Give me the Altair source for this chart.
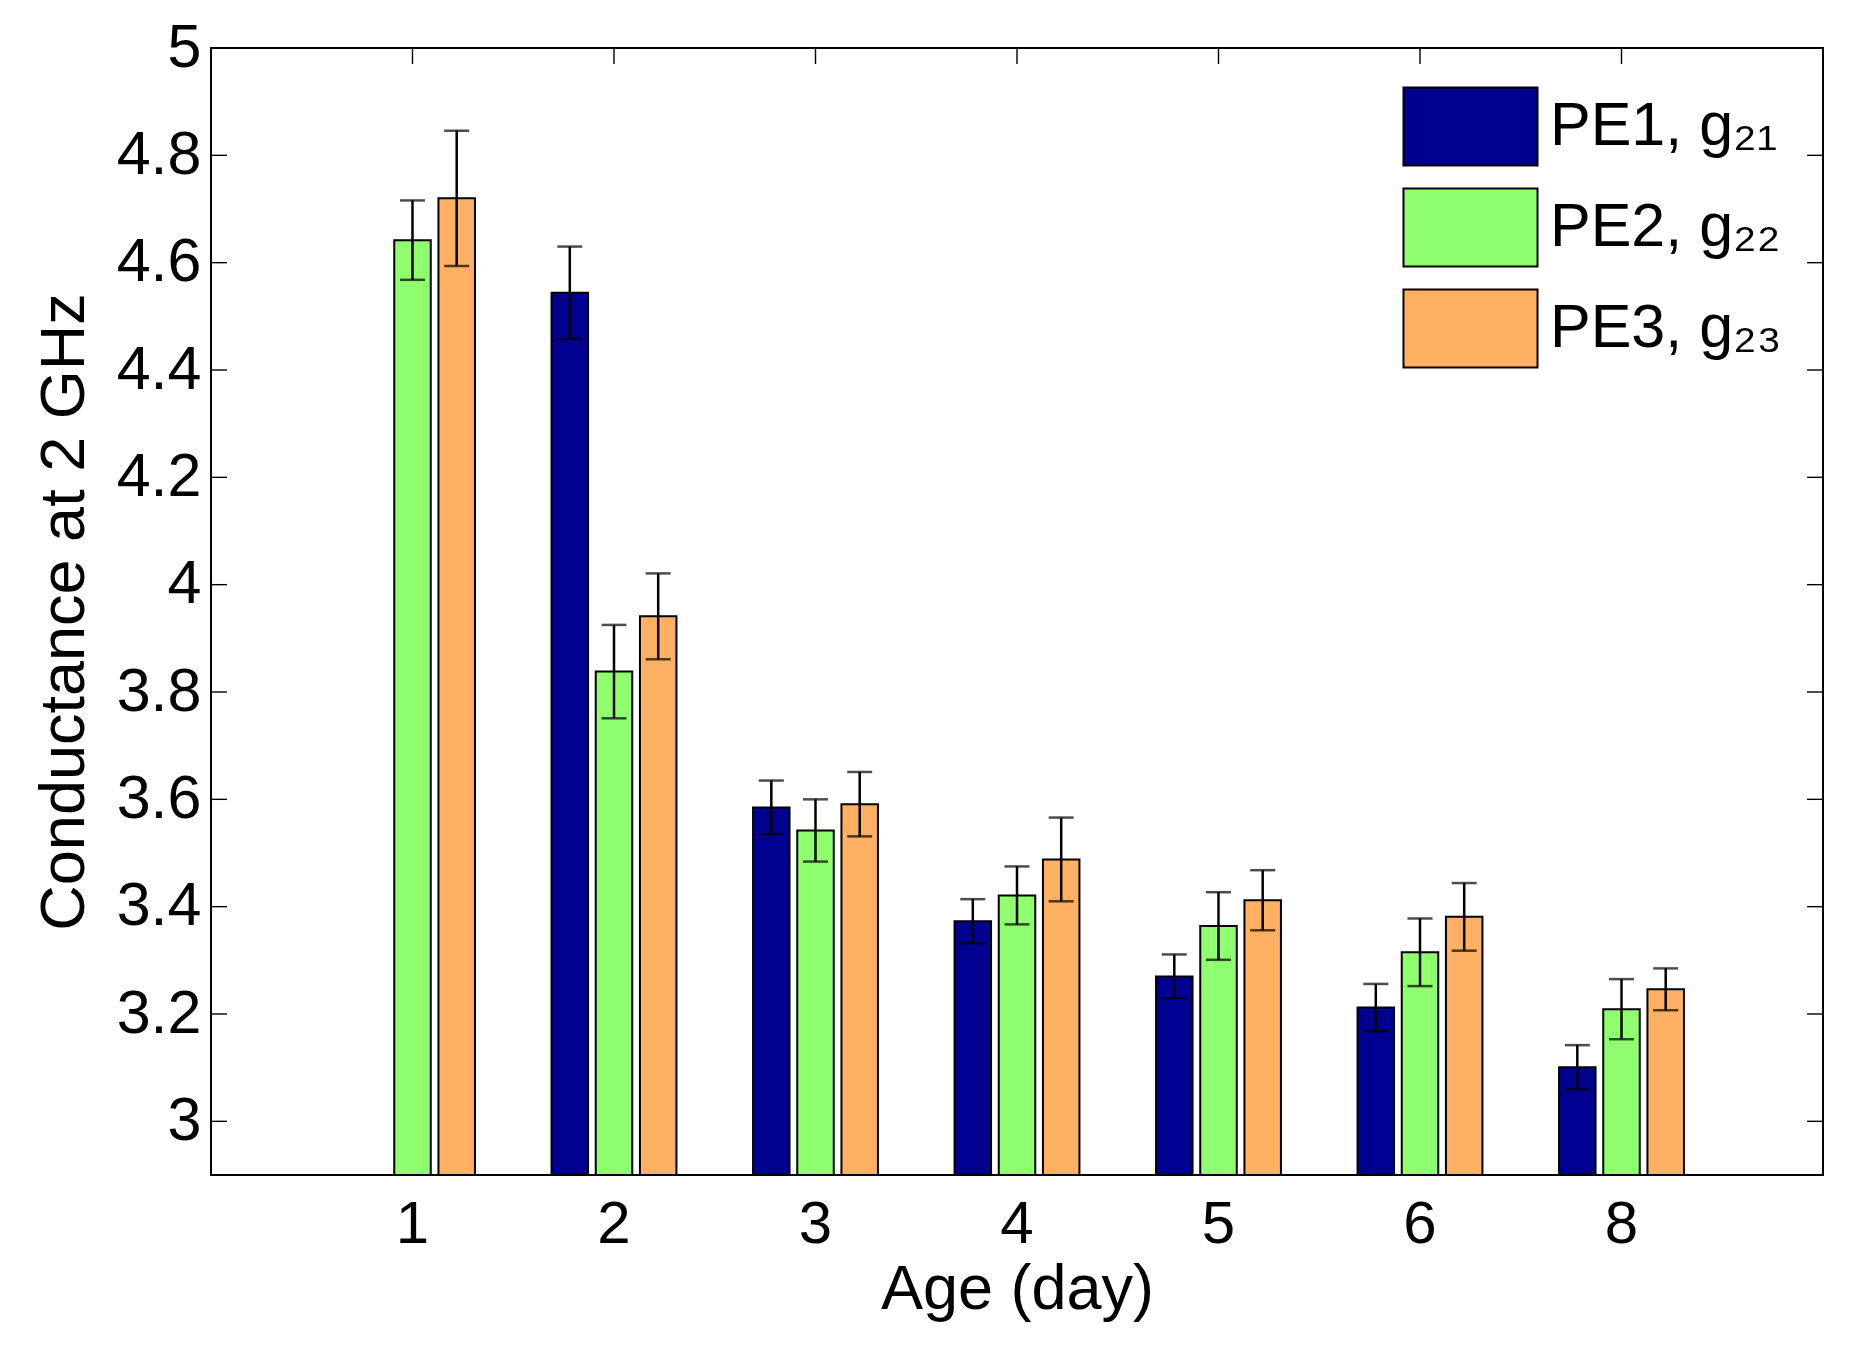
import altair as alt
import pandas as pd

days = ["1", "2", "3", "4", "5", "6", "8"]
series = ["PE1, g₂₁", "PE2, g₂₂", "PE3, g₂₃"]
pe1_mean = [None, 4.544, 3.585, 3.373, 3.270, 3.212, 3.101]
pe1_err = [None, 0.086, 0.050, 0.041, 0.041, 0.044, 0.041]
pe2_mean = [4.642, 3.838, 3.542, 3.421, 3.364, 3.315, 3.209]
pe2_err = [0.074, 0.087, 0.058, 0.054, 0.063, 0.063, 0.056]
pe3_mean = [4.720, 3.941, 3.591, 3.488, 3.412, 3.381, 3.246]
pe3_err = [0.126, 0.080, 0.060, 0.078, 0.056, 0.063, 0.039]
colors = ["#000090", "#90FF6F", "#FFB062"]
y_ticks = [3.0, 3.2, 3.4, 3.6, 3.8, 4.0, 4.2, 4.4, 4.6, 4.8, 5.0]

W, H = 1612, 1127
FONT = "Liberation Sans"

rows = []
for s, means, errs in zip(series, [pe1_mean, pe2_mean, pe3_mean], [pe1_err, pe2_err, pe3_err]):
    for d, m, e in zip(days, means, errs):
        if m is None:
            continue
        rows.append({"day": d, "series": s, "mean": m, "lo": m - e, "hi": m + e})
df = pd.DataFrame(rows)
ydf = pd.DataFrame({"v": y_ticks})
xdf = pd.DataFrame({"day": days})

yscale = alt.Scale(domain=[2.9, 5.0], zero=False, nice=False)
xscale = alt.Scale(paddingInner=0.342, paddingOuter=0.671)
oscale = alt.Scale(paddingInner=0.174, paddingOuter=0.087)

yax = alt.Axis(values=y_ticks, format="~g", title="Conductance at 2 GHz",
               labelPadding=10, labelFontSize=61, titlePadding=20)
xax = alt.Axis(title="Age (day)", labelAngle=0, labelPadding=20, titlePadding=4)

X = lambda: alt.X("day:N", sort=days, scale=xscale, axis=xax)
XO = lambda: alt.XOffset("series:N", sort=series, scale=oscale)

tick_style = dict(color="black", strokeWidth=1.4)

left_ticks = alt.Chart(ydf).mark_rule(**tick_style).encode(
    y=alt.Y("v:Q", scale=yscale, axis=yax), x=alt.value(0), x2=alt.value(16))
right_ticks = alt.Chart(ydf).mark_rule(**tick_style).encode(
    y=alt.Y("v:Q", scale=yscale, axis=yax), x=alt.value(W - 16), x2=alt.value(W))
top_ticks = alt.Chart(xdf).mark_rule(**tick_style).encode(
    x=X(), y=alt.value(0), y2=alt.value(16))
bottom_ticks = alt.Chart(xdf).mark_rule(**tick_style).encode(
    x=X(), y=alt.value(H - 16), y2=alt.value(H))

bars = alt.Chart(df).mark_bar(stroke="black", strokeWidth=2).encode(
    x=X(), xOffset=XO(),
    y=alt.Y("mean:Q", scale=yscale, axis=yax),
    y2=alt.datum(2.9),
    color=alt.Color("series:N", sort=series,
                    scale=alt.Scale(domain=series, range=colors),
                    legend=alt.Legend(
                        orient="none", legendX=1208, legendY=27, title=None,
                        symbolType="M-1.327,-0.772H1.327V0.772H-1.327Z",
                        symbolSize=10201, symbolStrokeColor="black",
                        symbolStrokeWidth=2, symbolOpacity=1,
                        labelFont=FONT, labelFontSize=61, labelColor="black",
                        labelOffset=28, labelLimit=0, rowPadding=6, padding=0,
                    )),
)

err_rule = alt.Chart(df).mark_rule(color="black", strokeWidth=2.5).encode(
    x=X(), xOffset=XO(),
    y=alt.Y("lo:Q", scale=yscale, axis=yax), y2="hi:Q")
cap_lo = alt.Chart(df).mark_tick(color="black", thickness=2.5, size=25, orient="horizontal").encode(
    x=X(), xOffset=XO(), y=alt.Y("lo:Q", scale=yscale, axis=yax))
cap_hi = alt.Chart(df).mark_tick(color="black", thickness=2.5, size=25, orient="horizontal").encode(
    x=X(), xOffset=XO(), y=alt.Y("hi:Q", scale=yscale, axis=yax))

chart = alt.layer(bottom_ticks, left_ticks, right_ticks, top_ticks, bars, err_rule, cap_lo, cap_hi).properties(
    width=W, height=H,
    autosize=alt.AutoSizeParams(type="none"),
    padding={"left": 203, "top": 40, "right": 26, "bottom": 165},
    background="white",
).configure_view(
    stroke="black", strokeWidth=2
).configure_axis(
    domain=False, ticks=False, tickSize=0, grid=False,
    labelFont=FONT, labelFontSize=60, labelColor="black",
    titleFont=FONT, titleFontSize=63, titleFontWeight="normal", titleColor="black",
)

chart.save("out.html", embed_options={"renderer": "svg", "actions": False})
